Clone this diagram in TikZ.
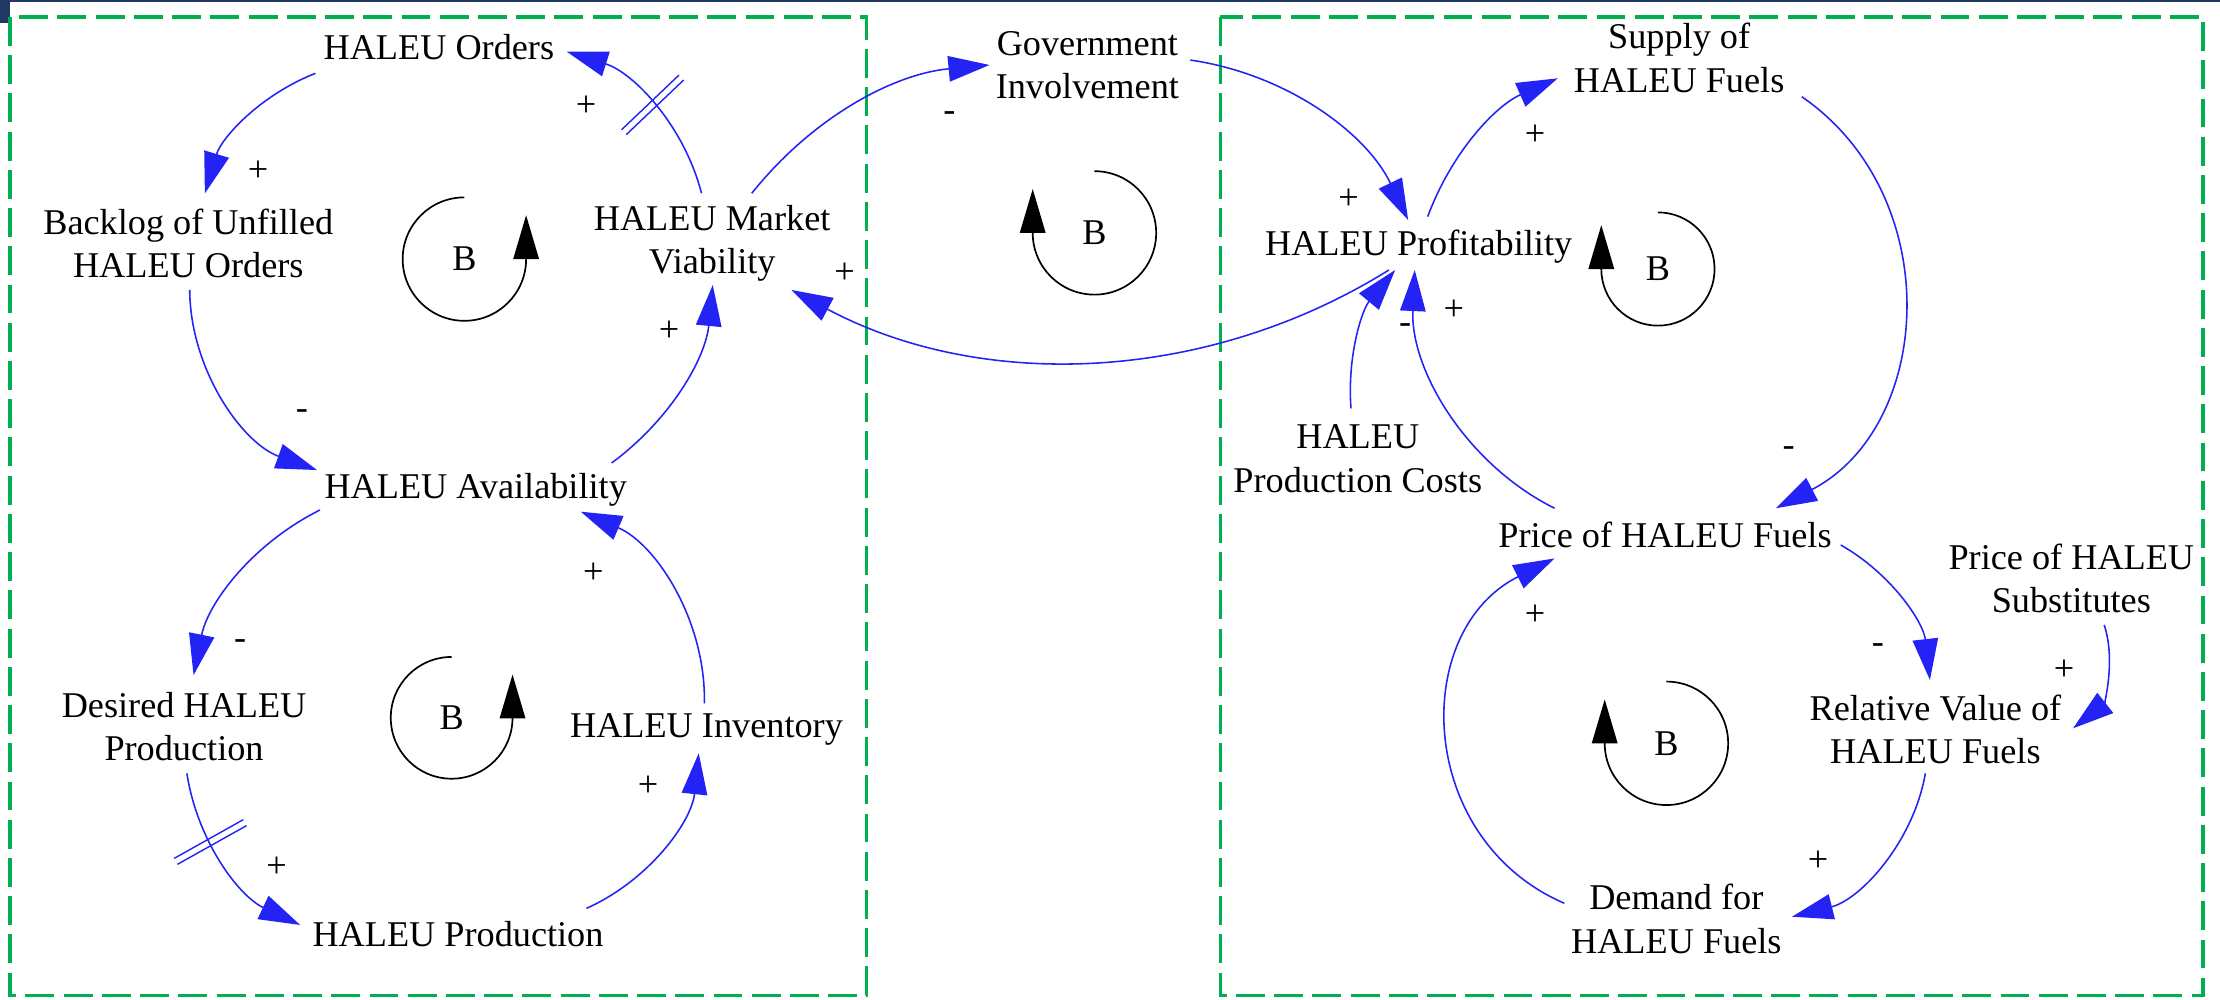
\documentclass[tikz,border=0pt]{standalone}
\usepackage{fontspec}
\setmainfont{Liberation Serif}
\usetikzlibrary{arrows.meta,decorations.markings}
\definecolor{cldblue}{RGB}{35,35,245}
\definecolor{boxgreen}{RGB}{0,176,80}
\definecolor{navybar}{RGB}{31,56,100}
\tikzset{
  var/.style={align=center,inner sep=0pt,font=\fontsize{12.8}{15.3}\selectfont},
  pol/.style={inner sep=0pt,font=\fontsize{12.8}{15.3}\selectfont},
  link/.style={draw=cldblue,line width=0.55pt,looseness=0.92,-{Triangle[length=14.5pt,width=9pt]}},
  delaymark/.style={postaction={decorate},decoration={markings,mark=at position #1 with {\draw[cldblue,line width=0.5pt,-] (-1.2pt,-14pt)--(-1.2pt,14pt) (1.2pt,-14pt)--(1.2pt,14pt);}}},
  loopar/.style={draw=black,line width=0.6pt,-{Triangle[length=15.5pt,width=9pt]}},
  gbox/.style={draw=boxgreen,line width=1.2pt,dash pattern=on 10.2pt off 3.3pt},
}
\begin{document}
\begin{tikzpicture}[x=0.5pt,y=-0.5pt]
\useasboundingbox (0,0) rectangle (1568,706);
\fill[white] (0,0) rectangle (1568,706);
\fill[navybar] (0,0) rectangle (1568,1.2);
\fill[navybar] (0,0) rectangle (7,16);
\draw[gbox] (7,12) rectangle (612,703);
\draw[gbox] (862,12) rectangle (1556,703);

% variables
\node[var] (ord) at (310,33) {HALEU Orders};
\node[var] (back) at (133,172) {Backlog of Unfilled\\HALEU Orders};
\node[var] (mv) at (503,172) {HALEU Market\\Viability};
\node[var] (avail) at (336,346) {HALEU Availability};
\node[var] (des) at (130,513) {Desired HALEU\\Production};
\node[var] (inv) at (499,515) {HALEU Inventory};
\node[var] (prod) at (323.5,660) {HALEU Production};
\node[var] (gov) at (768,46) {Government\\Involvement};
\node[var] (prof) at (1002,174) {HALEU Profitability};
\node[var] (sup) at (1186,41) {Supply of\\HALEU Fuels};
\node[var] (cost) at (959,324) {HALEU\\Production Costs};
\node[var] (price) at (1176,378) {Price of HALEU Fuels};
\node[var] (subs) at (1463,408.5) {Price of HALEU\\Substitutes};
\node[var] (rel) at (1367,515) {Relative Value of\\HALEU Fuels};
\node[var] (dem) at (1184,649) {Demand for\\HALEU Fuels};

% connectors
\draw[link,delaymark=0.5] ([shift={(-7.5,-35.5)}]mv.center) to[bend right=29] ([shift={(90.3,3.5)}]ord.center);
\draw[link] ([shift={(-87.2,18.8)}]ord.center) to[bend right=26] ([shift={(11.7,-35.4)}]back.center);
\draw[link] ([shift={(1,32.8)}]back.center) to[bend right=35] ([shift={(-112.1,-14)}]avail.center);
\draw[link] ([shift={(96,-19)}]avail.center) to[bend right=24] ([shift={(0.4,29.3)}]mv.center);
\draw[link] ([shift={(-110,14.2)}]avail.center) to[bend right=26] ([shift={(6.7,-36.2)}]des.center);
\draw[link,delaymark=0.37] ([shift={(2,33.2)}]des.center) to[bend right=28] ([shift={(-111.5,-6.7)}]prod.center);
\draw[link] ([shift={(90.7,-18.4)}]prod.center) to[bend right=30] ([shift={(-5.5,17)}]inv.center);
\draw[link] ([shift={(-1.5,-18.2)}]inv.center) to[bend right=34] ([shift={(74.2,15.4)}]avail.center);
\draw[link] ([shift={(28,-35.5)}]mv.center) to[bend left=23] ([shift={(-69.1,-0.1)}]gov.center);
\draw[link] ([shift={(72.7,-3.6)}]gov.center) to[bend left=28] ([shift={(-7.4,-18.6)}]prof.center);
\draw[link] ([shift={(-21,16.7)}]prof.center) to[bend left=30] ([shift={(56,32.8)}]mv.center);
\draw[link] ([shift={(86.6,27.3)}]sup.center) to[bend left=59,looseness=1.1] ([shift={(78.2,-19)}]price.center);
\draw[link] ([shift={(6.4,-21)}]prof.center) to[bend left=23] ([shift={(-85.7,14.3)}]sup.center);
\draw[link] ([shift={(-4.8,-35.6)}]cost.center) to[bend left=22] ([shift={(-16.6,16.7)}]prof.center);
\draw[link] ([shift={(-78,-19)}]price.center) to[bend left=33] ([shift={(-2.8,16.7)}]prof.center);
\draw[link] ([shift={(124.1,6.9)}]price.center) to[bend left=27] ([shift={(-3.9,-34.7)}]rel.center);
\draw[link] ([shift={(23.2,32.9)}]subs.center) to[bend left=35] ([shift={(97.2,-0.6)}]rel.center);
\draw[link] ([shift={(-7.1,31.2)}]rel.center) to[bend left=33] ([shift={(81.7,-1.5)}]dem.center);
\draw[link] ([shift={(-79.1,-11)}]dem.center) to[bend left=65,looseness=1.2] ([shift={(-78,16.4)}]price.center);

% polarities
\node[pol] (p1) at (414,75) {+};
\node[pol] (p2) at (182.3,121.3) {+};
\node[pol] (p3) at (213.3,293) {-};
\node[pol] (p4) at (472.5,234.3) {+};
\node[pol] (p5) at (169.7,455.6) {-};
\node[pol] (p6) at (195.4,612.2) {+};
\node[pol] (p7) at (457.8,555.6) {+};
\node[pol] (p8) at (419,405) {+};
\node[pol] (p9) at (670.5,82.4) {-};
\node[pol] (p10) at (952.5,140.5) {+};
\node[pol] (p11) at (596.5,193) {+};
\node[pol] (p12) at (1084.2,95.4) {+};
\node[pol] (p13) at (992.5,231.9) {-};
\node[pol] (p14) at (1026.8,219) {+};
\node[pol] (p15) at (1263.4,319) {-};
\node[pol] (p16) at (1326.3,457.9) {-};
\node[pol] (p17) at (1457.8,473.2) {+};
\node[pol] (p18) at (1284.1,608.6) {+};
\node[pol] (p19) at (1084.2,434.4) {+};

% loop markers
\node[var] (b1) at (328,183) {B};
\draw[loopar] ([shift={(90:21.8pt)}]b1.center) arc[start angle=90,end angle=360,radius=21.8pt] -- ++(90:15.5pt);
\node[var] (b2) at (319,507) {B};
\draw[loopar] ([shift={(90:21.5pt)}]b2.center) arc[start angle=90,end angle=360,radius=21.5pt] -- ++(90:15.3pt);
\node[var] (b3) at (773,164.5) {B};
\draw[loopar] ([shift={(90:21.8pt)}]b3.center) arc[start angle=90,end angle=-180,radius=21.8pt] -- ++(90:15.5pt);
\node[var] (b4) at (1171,190) {B};
\draw[loopar] ([shift={(90:20pt)}]b4.center) arc[start angle=90,end angle=-180,radius=20pt] -- ++(90:15.5pt);
\node[var] (b5) at (1177,525) {B};
\draw[loopar] ([shift={(90:21.8pt)}]b5.center) arc[start angle=90,end angle=-180,radius=21.8pt] -- ++(90:15.5pt);
\end{tikzpicture}
\end{document}
